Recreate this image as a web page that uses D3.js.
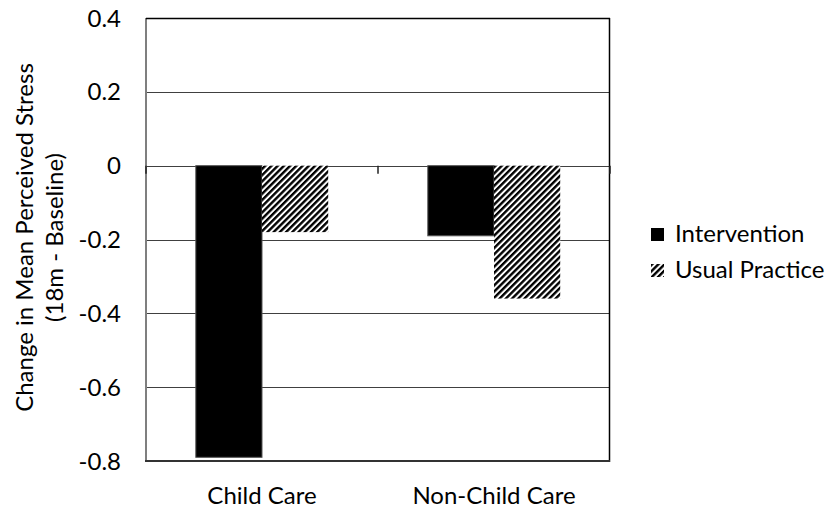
<!DOCTYPE html>
<html>
<head>
<meta charset="utf-8">
<script src="https://cdn.jsdelivr.net/npm/d3@7"></script>
<style>
  html, body { margin: 0; padding: 0; background: #fff; }
  svg { display: block; }
  text { font-family: Lato, "Open Sans", sans-serif; fill: #000; }
</style>
</head>
<body>
<svg id="chart" width="826" height="512"></svg>
<script>
// ---- data ----
const categories = ["Child Care", "Non-Child Care"];
const seriesNames = ["Intervention", "Usual Practice"];
const intervention = [-0.79, -0.19];
const usualPractice = [-0.18, -0.36];
const yTicks = [0.4, 0.2, 0, -0.2, -0.4, -0.6, -0.8];
const yTickLabels = ["0.4", "0.2", "0", "-0.2", "-0.4", "-0.6", "-0.8"];
const yTitleLines = ["Change in Mean Perceived Stress", "(18m - Baseline)"];

// ---- layout ----
const W = 826, H = 512;
const plot = { left: 146, right: 610, top: 18, bottom: 461 };
const FONT = 24;

const svg = d3.select("#chart");

const defs = svg.append("defs");
const pat = defs.append("pattern")
  .attr("id", "hatch")
  .attr("patternUnits", "userSpaceOnUse")
  .attr("width", 4.4).attr("height", 4.4)
  .attr("patternTransform", "rotate(45)");
pat.append("rect").attr("width", 4.4).attr("height", 4.4).attr("fill", "#fff");
pat.append("rect").attr("x", 0).attr("width", 2.4).attr("height", 4.4).attr("fill", "#000");

const y = d3.scaleLinear().domain([-0.8, 0.4]).range([plot.bottom, plot.top]);
const step = (plot.right - plot.left) / categories.length;
const x0 = d3.scaleBand().domain(categories).range([plot.left, plot.right])
  .paddingInner(0.4293).paddingOuter(0.4293 / 2);
const x1 = d3.scaleBand().domain(seriesNames).range([0, x0.bandwidth()]);

const fills = { "Intervention": "#000", "Usual Practice": "url(#hatch)" };
const seriesData = { "Intervention": intervention, "Usual Practice": usualPractice };

// gridlines
svg.append("g").selectAll("line").data(yTicks).join("line")
  .attr("x1", plot.left).attr("x2", plot.right)
  .attr("y1", d => Math.round(y(d)) + 0.5).attr("y2", d => Math.round(y(d)) + 0.5)
  .attr("stroke", "#404040").attr("stroke-width", 1.2);

// bars
seriesNames.forEach(s => {
  svg.append("g").selectAll("rect").data(categories).join("rect")
    .attr("x", (c) => x0(c) + x1(s))
    .attr("width", x1.bandwidth())
    .attr("y", (c, i) => Math.min(y(0), y(seriesData[s][i])))
    .attr("height", (c, i) => Math.abs(y(seriesData[s][i]) - y(0)))
    .attr("fill", fills[s])
    .attr("stroke", s === "Intervention" ? "#555" : "none")
    .attr("stroke-width", 1);
});

// plot frame
svg.append("line").attr("x1", plot.left).attr("x2", plot.left)
  .attr("y1", plot.top).attr("y2", plot.bottom + 1)
  .attr("stroke", "#7f7f7f").attr("stroke-width", 2);
svg.append("line").attr("x1", plot.right - 0.5).attr("x2", plot.right - 0.5)
  .attr("y1", plot.top).attr("y2", plot.bottom + 1)
  .attr("stroke", "#000").attr("stroke-width", 1.5);
svg.append("line").attr("x1", plot.left).attr("x2", plot.right)
  .attr("y1", plot.top + 0.5).attr("y2", plot.top + 0.5)
  .attr("stroke", "#000").attr("stroke-width", 1.5);
svg.append("line").attr("x1", plot.left - 1).attr("x2", plot.right)
  .attr("y1", plot.bottom).attr("y2", plot.bottom)
  .attr("stroke", "#333").attr("stroke-width", 2);

// category tick marks at zero line
const tickXs = [plot.left, plot.left + step, plot.right];
svg.append("g").selectAll("line").data(tickXs).join("line")
  .attr("x1", d => d).attr("x2", d => d)
  .attr("y1", y(0)).attr("y2", y(0) + 8)
  .attr("stroke", "#222").attr("stroke-width", 1.5);

// y tick labels
svg.append("g").selectAll("text").data(yTicks).join("text")
  .attr("x", 121).attr("y", d => y(d))
  .attr("dy", "0.36em")
  .attr("text-anchor", "end")
  .style("font-size", FONT + "px")
  .text((d, i) => yTickLabels[i]);

// x category labels
svg.append("g").selectAll("text").data(categories).join("text")
  .attr("x", c => x0(c) + x0.bandwidth() / 2)
  .attr("y", 504)
  .attr("text-anchor", "middle")
  .style("font-size", FONT + "px")
  .text(c => c);

// y title
const cy = (plot.top + plot.bottom) / 2 - 2;
const yt = svg.append("g");
[33, 63].forEach((bx, i) => {
  yt.append("text")
    .attr("transform", `translate(${bx},${cy}) rotate(-90)`)
    .attr("text-anchor", "middle")
    .style("font-size", FONT + "px")
    .text(yTitleLines[i]);
});

// legend
const legend = svg.append("g");
const legY = [228, 264];
seriesNames.forEach((s, i) => {
  legend.append("rect")
    .attr("x", 651).attr("y", legY[i]).attr("width", 13).attr("height", 13)
    .attr("fill", fills[s]);
  legend.append("text")
    .attr("x", 675).attr("y", legY[i] + 13.5)
    .style("font-size", FONT + "px")
    .text(s);
});
</script>
</body>
</html>
